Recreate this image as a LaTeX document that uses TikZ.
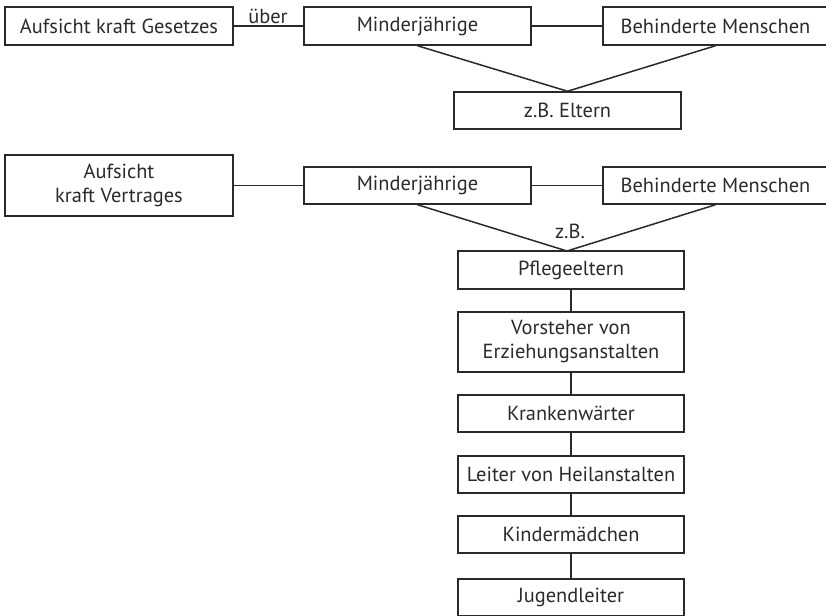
\documentclass[tikz,border=0pt]{standalone}
\usepackage{fontspec}
\setmainfont{PT Sans}
\definecolor{ink}{HTML}{2A2A2A}
\begin{document}
\begin{tikzpicture}[x=1pt,y=-1pt,
  box/.style={draw=ink,line width=1.5pt,text=ink,inner sep=0pt,align=center,
    font=\fontsize{20.4}{24}\selectfont},
  lab/.style={text=ink,inner sep=0pt,font=\fontsize{20.4}{24}\selectfont},
  conn/.style={draw=ink,line width=1.5pt}]
\useasboundingbox (0,0) rectangle (826,615);
\clip (0,0) rectangle (826,615);
% top group
\node[box,minimum width=228pt,minimum height=38pt] (A1) at (119,26) {Aufsicht kraft Gesetzes};
\node[box,minimum width=227pt,minimum height=38pt] (M1) at (417.5,26) {Minderjährige};
\node[box,minimum width=225pt,minimum height=38pt] (B1) at (715.5,26) {Behinderte Menschen};
\node[box,minimum width=227pt,minimum height=37pt] (E1) at (567.5,110.5) {z.B. Eltern};
\node[lab] (ueber) at (268,16) {über};
\draw[conn] (A1.east) -- (M1.west);
\draw[conn] (M1.east) -- (B1.west);
\draw[conn] (M1.south) -- (E1.north) -- (B1.south);
% second group
\node[box,minimum width=228pt,minimum height=61pt] (A2) at (119,185.5) {Aufsicht\\kraft Vertrages};
\node[box,minimum width=227pt,minimum height=37pt] (M2) at (417.5,185.5) {Minderjährige};
\node[box,minimum width=225pt,minimum height=37pt] (B2) at (715.5,185.5) {Behinderte Menschen};
\node[box,minimum width=226pt,minimum height=38pt] (P) at (571,270) {Pflegeeltern};
\node[box,minimum width=226pt,minimum height=60pt] (V) at (571,342) {Vorsteher von\\Erziehungsanstalten};
\node[box,minimum width=226pt,minimum height=37pt] (K) at (571,413.5) {Krankenwärter};
\node[box,minimum width=226pt,minimum height=37pt] (L) at (571,474.5) {Leiter von Heilanstalten};
\node[box,minimum width=226pt,minimum height=37pt] (Ki) at (571,534.5) {Kindermädchen};
\node[box,minimum width=226pt,minimum height=37pt] (J) at (571,597.5) {Jugendleiter};
\node[lab] (zb) at (570,231) {z.B.};
\coordinate (j2) at (567,251);
\draw[conn] (A2.east) -- (M2.west);
\draw[conn] (M2.east) -- (B2.west);
\draw[conn] (M2.south) -- (j2) -- (B2.south);
\draw[conn] (P) -- (V);
\draw[conn] (V) -- (K);
\draw[conn] (K) -- (L);
\draw[conn] (L) -- (Ki);
\draw[conn] (Ki) -- (J);
\end{tikzpicture}
\end{document}
